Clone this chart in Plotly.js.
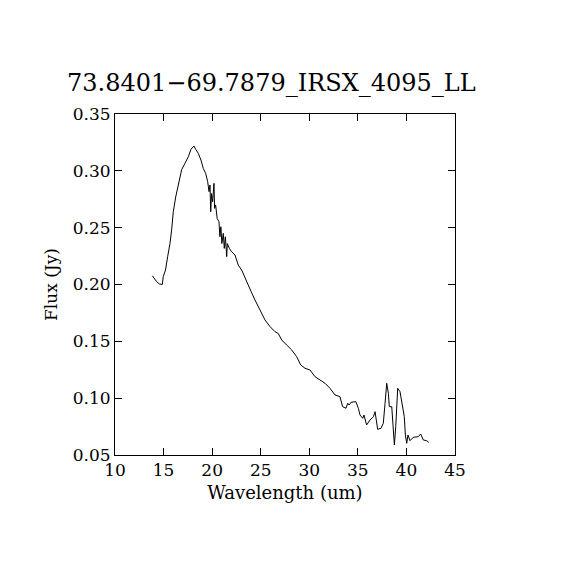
<!DOCTYPE html>
<html>
<head>
<meta charset="utf-8">
<script src="https://cdn.plot.ly/plotly-3.0.1.min.js"></script>
<style>html,body{margin:0;padding:0;background:#fff;}#chart{width:570px;height:570px;}</style>
</head>
<body>
<div id="chart"></div>
<script>
var chartTitle = "73.8401\u221269.7879_IRSX_4095_LL";
var xLabel = "Wavelength (um)";
var yLabel = "Flux (Jy)";
var xTicks = [10, 15, 20, 25, 30, 35, 40, 45];
var yTicks = [0.05, 0.10, 0.15, 0.20, 0.25, 0.30, 0.35];
var yTickText = ["0.05", "0.10", "0.15", "0.20", "0.25", "0.30", "0.35"];

var wavelength = [
13.84, 14.29, 14.56, 14.87, 14.97, 15.2, 15.42, 15.66, 15.83, 16.0,
16.25, 16.59, 16.86, 17.2, 17.55, 17.82, 18.13, 18.3, 18.57, 18.85,
19.09, 19.33, 19.54, 19.68, 19.78, 19.85, 19.94, 20.05, 20.19, 20.25,
20.36, 20.52, 20.7, 20.8, 20.9, 21.0, 21.15, 21.25, 21.36, 21.5,
21.56, 21.77, 22.0, 22.35, 22.69, 23.04, 23.38, 23.72, 24.0, 24.41,
24.93, 25.44, 25.96, 26.47, 26.8, 27.16, 27.67, 28.19, 28.7, 29.12,
29.56, 30.07, 30.59, 31.1, 31.62, 32.13, 32.65, 33.16, 33.43, 33.78,
33.95, 34.1, 34.3, 34.8, 35.05, 35.22, 35.5, 35.63, 35.9, 36.25,
36.6, 36.77, 36.87, 37.04, 37.38, 37.62, 37.8, 37.97, 38.14, 38.24,
38.49, 38.65, 38.76, 38.9, 39.0, 39.1, 39.34, 39.62, 39.78, 39.89,
40.03, 40.16, 40.37, 40.71, 41.22, 41.46, 41.74, 42.08, 42.3
];
var flux = [
0.2077, 0.2025, 0.2005, 0.2000, 0.2070, 0.2127, 0.2245, 0.2360, 0.2480, 0.2640,
0.2770, 0.2890, 0.3010, 0.3066, 0.3124, 0.3190, 0.3218, 0.3190, 0.3154, 0.3095,
0.3020, 0.2978, 0.2905, 0.2817, 0.2875, 0.2640, 0.2800, 0.2728, 0.2890, 0.2670,
0.2700, 0.2580, 0.2553, 0.2420, 0.2508, 0.2360, 0.2450, 0.2318, 0.2420, 0.2245,
0.2360, 0.2318, 0.2288, 0.2260, 0.2170, 0.2127, 0.2055, 0.1995, 0.1940, 0.1864,
0.1776, 0.1688, 0.1629, 0.1585, 0.1570, 0.1512, 0.1468, 0.1424, 0.1365, 0.1292,
0.1263, 0.1248, 0.1189, 0.1160, 0.1131, 0.1087, 0.1028, 0.1013, 0.0925, 0.0911,
0.0955, 0.0940, 0.0964, 0.0969, 0.0911, 0.0852, 0.0823, 0.0852, 0.0764, 0.0808,
0.0837, 0.0881, 0.0808, 0.0726, 0.0735, 0.0779, 0.0955, 0.1131, 0.1043, 0.0925,
0.0925, 0.0749, 0.0588, 0.0749, 0.0955, 0.1087, 0.1057, 0.0925, 0.0837, 0.0676,
0.0603, 0.0676, 0.0626, 0.0656, 0.0661, 0.0685, 0.0632, 0.0626, 0.0610
];

var serif = "DejaVu Serif, Liberation Serif, serif";

var trace = {
  x: wavelength, y: flux, type: "scatter", mode: "lines",
  line: {color: "#000", width: 1}, hoverinfo: "none"
};

var axisCommon = {
  showgrid: false, zeroline: false, showline: true, mirror: "ticks",
  linecolor: "#000", linewidth: 1, ticks: "inside", ticklen: 7,
  tickcolor: "#000", tickwidth: 1,
  tickfont: {family: serif, size: 17, color: "#000"}
};

var layout = {
  width: 570, height: 570,
  paper_bgcolor: "#fff", plot_bgcolor: "#fff",
  margin: {l: 115, r: 115, t: 114, b: 115, pad: 0},
  showlegend: false,
  title: {
    text: chartTitle, font: {family: serif, size: 24, color: "#000"},
    xref: "paper", x: 0.46, xanchor: "center",
    yref: "container", y: 1 - 83/570, yanchor: "middle"
  },
  xaxis: Object.assign({}, axisCommon, {
    range: [10, 45], tickmode: "array", tickvals: xTicks,
    ticktext: xTicks.map(String),
    title: {text: xLabel, font: {family: serif, size: 18, color: "#000"}, standoff: 6}
  }),
  yaxis: Object.assign({}, axisCommon, {
    range: [0.05, 0.35], tickmode: "array", tickvals: yTicks, ticktext: yTickText,
    title: {text: yLabel, font: {family: serif, size: 17, color: "#000"}, standoff: 10}
  })
};

Plotly.newPlot("chart", [trace], layout, {staticPlot: true, displayModeBar: false});
</script>
</body>
</html>
